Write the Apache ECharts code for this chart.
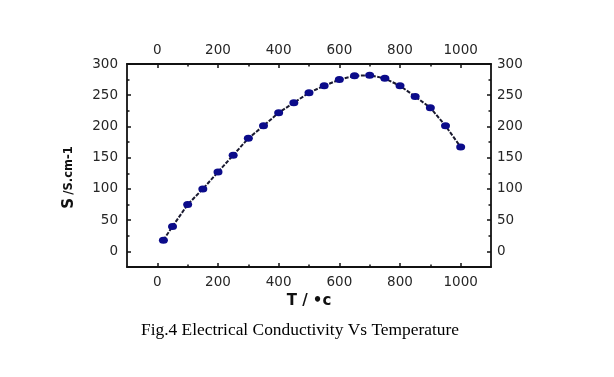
<!DOCTYPE html>
<html>
<head>
<meta charset="utf-8">
<script src="https://cdn.jsdelivr.net/npm/echarts@6/dist/echarts.min.js"></script>
<style>html,body{margin:0;padding:0;background:#fff}#c{width:614px;height:377px}</style>
</head>
<body>
<div id="c"></div>
<script>
const temperature = [20, 50, 100, 150, 200, 250, 300, 350, 400, 450, 500, 550, 600, 650, 700, 750, 800, 850, 900, 950, 1000];
const conductivity = [18, 40, 75, 100, 127, 154, 181, 201, 222, 238, 254, 265, 275, 281, 282, 277, 265, 248, 230, 201, 167];
const xTicks = [0, 200, 400, 600, 800, 1000];
const xMinorTicks = [100, 300, 500, 700, 900];
const yTicks = [0, 50, 100, 150, 200, 250, 300];
const yMinorTicks = [25, 75, 125, 175, 225, 275];
const caption = 'Fig.4 Electrical Conductivity Vs Temperature';

const labelFont = { fontFamily: 'DejaVu Sans', fontSize: 13.5, color: '#262626', formatter: v => String(v) };
const lineStyle = { color: '#111', width: 1.8 };

function xAx(pos, main) {
  return {
    type: 'value', position: pos, min: -100, max: 1100, gridIndex: 0,
    axisLine: { show: main, onZero: false, lineStyle },
    axisTick: { show: true, inside: true, length: main ? 4 : 2.5, customValues: main ? xTicks : xMinorTicks, lineStyle: { color: '#111', width: 1.5 } },
    axisLabel: main ? Object.assign({ show: true, customValues: xTicks, margin: pos === 'bottom' ? 8 : 7 }, labelFont) : { show: false },
    splitLine: { show: false },
    name: main && pos === 'bottom' ? 'T / •c' : '',
    nameLocation: 'middle', nameGap: 26,
    nameTextStyle: { fontFamily: 'DejaVu Sans', fontWeight: 'bold', fontSize: 15, color: '#111' }
  };
}
function yAx(pos, main) {
  return {
    type: 'value', position: pos, min: -25, max: 300, gridIndex: 0,
    axisLine: { show: main, onZero: false, lineStyle },
    axisTick: { show: true, inside: true, length: main ? 4 : 2.5, customValues: main ? yTicks : yMinorTicks, lineStyle: { color: '#111', width: 1.5 } },
    axisLabel: main ? Object.assign({ show: true, customValues: yTicks, margin: pos === 'left' ? 9 : 6 }, labelFont) : { show: false },
    splitLine: { show: false },
    name: main && pos === 'left' ? '{a|S} {b|/S.cm-1}' : '',
    nameLocation: 'middle', nameGap: 50, nameRotate: 90,
    nameTextStyle: {
      padding: [0, 24, 0, 0],
      rich: {
        a: { fontFamily: 'DejaVu Sans', fontWeight: 'bold', fontSize: 15, color: '#111' },
        b: { fontFamily: 'DejaVu Sans', fontWeight: 'bold', fontSize: 11.5, color: '#111' }
      }
    }
  };
}

const chart = echarts.init(document.getElementById('c'), null, { renderer: 'canvas' });
chart.setOption({
  animation: false,
  backgroundColor: '#fff',
  title: {
    text: caption, left: 136, top: 317,
    textStyle: { fontFamily: 'Liberation Serif', fontWeight: 'normal', fontSize: 17.4, color: '#000' }
  },
  grid: { left: 127, top: 64, width: 364, height: 203, containLabel: false },
  xAxis: [xAx('bottom', true), xAx('top', true), xAx('bottom', false), xAx('top', false)],
  yAxis: [yAx('left', true), yAx('right', true), yAx('left', false), yAx('right', false)],
  series: [{
    type: 'line',
    xAxisIndex: 0, yAxisIndex: 0,
    data: temperature.map((t, i) => [t, conductivity[i]]),
    smooth: false,
    symbol: 'circle', symbolSize: [9, 7],
    itemStyle: { color: '#0b0b8a' },
    lineStyle: { color: '#1a1a30', width: 2, type: [4, 1.5] }
  }]
});
</script>
</body>
</html>
